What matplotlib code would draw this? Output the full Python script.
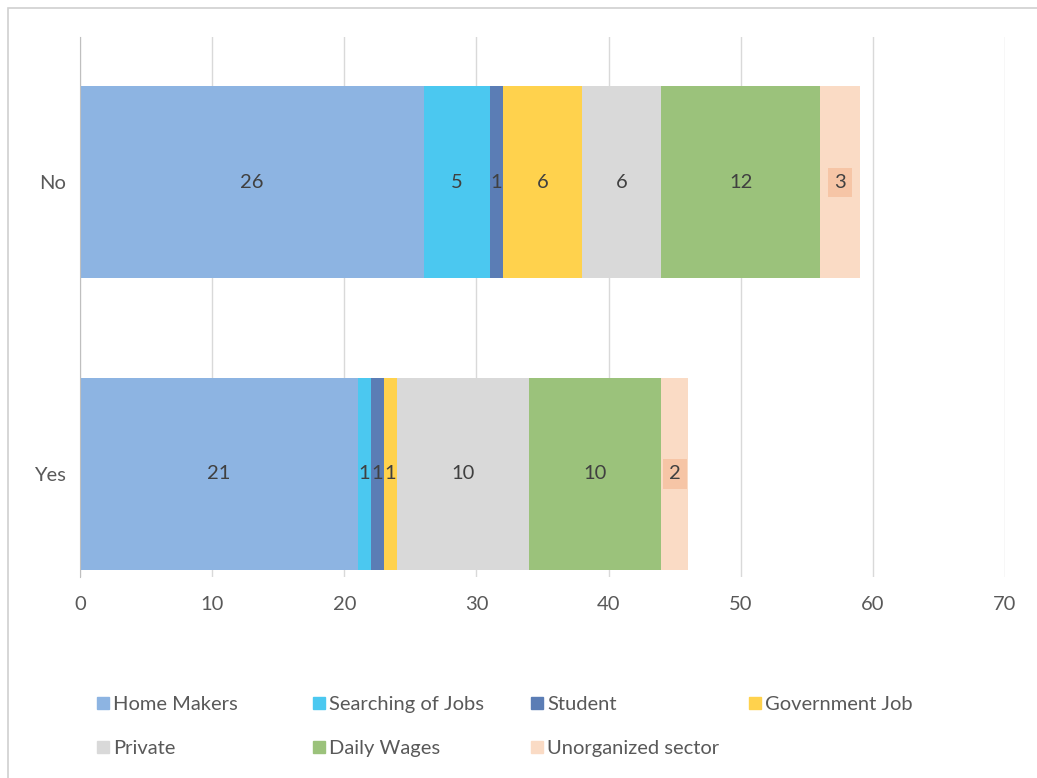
import numpy as np
import matplotlib.pyplot as plt
from matplotlib.patches import Rectangle, Patch

# data
groups = ["Yes", "No"]
series = ["Home Makers", "Searching of Jobs", "Student", "Government Job",
          "Private", "Daily Wages", "Unorganized sector"]
yes_vals = [21, 1, 1, 1, 10, 10, 2]
no_vals = [26, 5, 1, 6, 6, 12, 3]
colors = ["#8db4e2", "#4bc8f0", "#5b7db5", "#ffd24d",
          "#d9d9d9", "#9bc27b", "#fadbc5"]

plt.rcParams["font.family"] = ["Lato", "DejaVu Sans"]
txt = "#404040"

fig = plt.figure(figsize=(10.37, 7.78), dpi=100)
ax = fig.add_axes([80 / 1037, 1 - 577 / 778, 925 / 1037, 540 / 778])

# outer frame (cut at top/right like the screenshot)
fig.patches.append(Rectangle((8 / 1037, -0.01), 1.0, 1 - 8 / 778 + 0.01,
                             transform=fig.transFigure, fill=False,
                             edgecolor="#d0d0d0", lw=1.2))

vals = np.array([yes_vals, no_vals])
ypos = np.arange(len(groups))
left = np.zeros(len(groups))
for i, name in enumerate(series):
    v = vals[:, i]
    ax.barh(ypos, v, left=left, height=0.66, color=colors[i], label=name, zorder=2)
    for j in range(len(groups)):
        cx = left[j] + v[j] / 2
        if name == "Unorganized sector":
            ax.text(cx, ypos[j], str(v[j]), ha="center", va="center", fontsize=14.5,
                    color=txt, zorder=3,
                    bbox=dict(boxstyle="square,pad=0.3", fc="#f6c5a6", ec="none"))
        else:
            ax.text(cx, ypos[j], str(v[j]), ha="center", va="center", fontsize=14.5,
                    color=txt, zorder=3)
    left += v

ax.set_xlim(0, 70)
ax.set_ylim(-0.353, 1.497)
ax.set_xticks(range(0, 71, 10))
ax.set_yticks(ypos)
ax.set_yticklabels(groups)
ax.tick_params(axis="both", length=0, labelsize=14.5, labelcolor="#595959")
ax.tick_params(axis="x", pad=14)
ax.tick_params(axis="y", pad=10)
ax.grid(axis="x", color="#d9d9d9", lw=1, zorder=0)
for s in ["top", "right", "bottom"]:
    ax.spines[s].set_visible(False)
ax.spines["left"].set_color("#bfbfbf")

# Excel-style legend: equal-width columns, one small legend per column
col_x = [97, 313, 531, 749]
for c, x in enumerate(col_x):
    idx = [k for k in (c, c + 4) if k < len(series)]
    fig.legend([Patch(color=colors[k]) for k in idx], [series[k] for k in idx],
               loc="upper left", bbox_to_anchor=(x / 1037, 1 - 696 / 778),
               frameon=False, borderpad=0, borderaxespad=0,
               fontsize=14.5, labelcolor="#595959", handlelength=0.6,
               handleheight=0.6, handletextpad=0.2, labelspacing=1.35)

fig.savefig("out.png", dpi=100)
